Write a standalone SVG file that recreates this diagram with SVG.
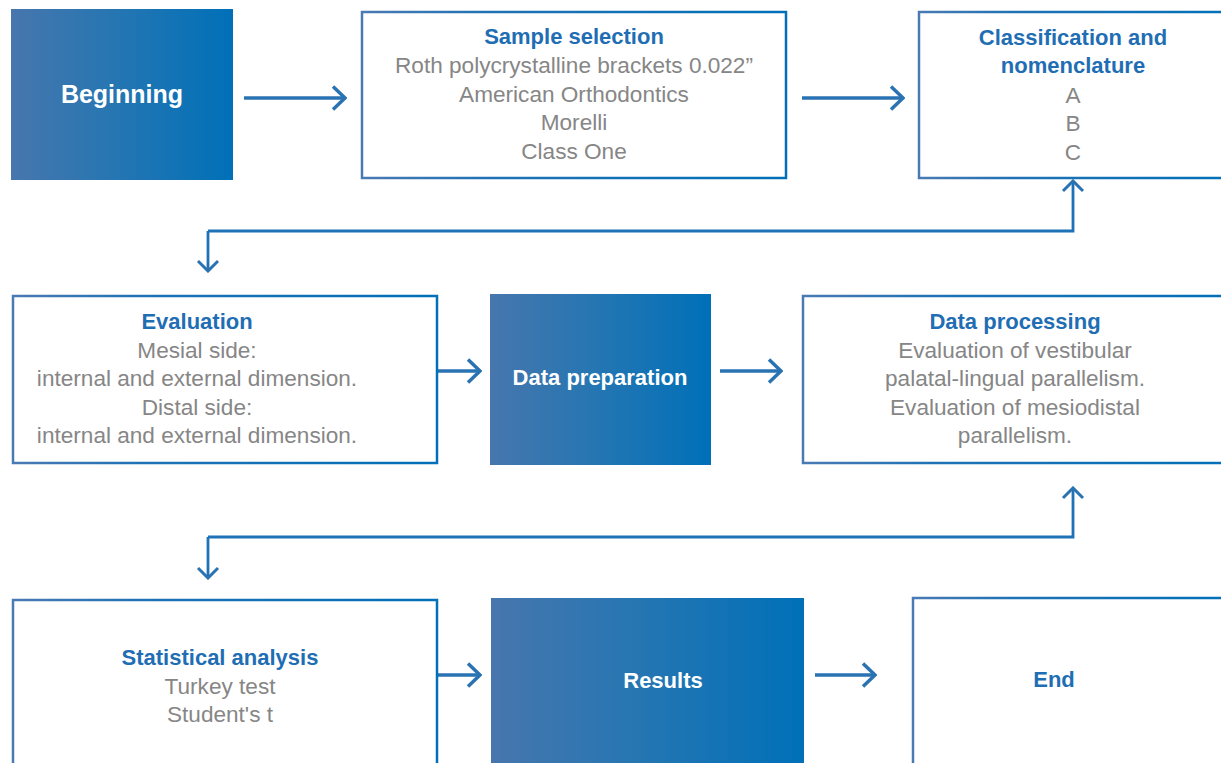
<svg xmlns="http://www.w3.org/2000/svg" width="1221" height="763" viewBox="0 0 1221 763">
<defs>
<linearGradient id="fillGrad" x1="0" y1="0" x2="1" y2="0">
<stop offset="0" stop-color="#4776ad"/>
<stop offset="0.45" stop-color="#2776b2"/>
<stop offset="1" stop-color="#0070b8"/>
</linearGradient>
<linearGradient id="strokeGrad" x1="0" y1="0" x2="1" y2="0">
<stop offset="0" stop-color="#4a7ab3"/>
<stop offset="0.3" stop-color="#1f72b5"/>
<stop offset="1" stop-color="#0070b8"/>
</linearGradient>
<marker id="headBig" markerUnits="userSpaceOnUse" viewBox="0 0 16 26" refX="14" refY="13" markerWidth="16" markerHeight="26" orient="auto">
<path d="M2,1.5 L14,13 L2,24.5" fill="none" stroke="#2a73b3" stroke-width="3.5"/>
</marker>
<marker id="headSmall" markerUnits="userSpaceOnUse" viewBox="0 0 14 24" refX="12" refY="12" markerWidth="14" markerHeight="24" orient="auto">
<path d="M2,2 L12,12 L2,22" fill="none" stroke="#2a73b3" stroke-width="3"/>
</marker>
</defs>
<style>
.grad{fill:url(#fillGrad);}
.box{fill:#ffffff;stroke:url(#strokeGrad);stroke-width:2.5;}
.t{font-family:"Liberation Sans",Arial,sans-serif;text-anchor:middle;}
.title{font-weight:bold;font-size:22px;fill:#1f6eb4;}
.body{font-size:22.6px;fill:#868686;}
.white{font-weight:bold;font-size:22px;fill:#ffffff;}
.arrow{fill:none;stroke:#2a73b3;stroke-width:3.5;marker-end:url(#headBig);}
.conn{fill:none;stroke:#1f72b5;stroke-width:2.8;marker-end:url(#headSmall);}
</style>
<rect width="1221" height="763" fill="#ffffff"/>

<g id="connectors">
<line class="arrow" x1="244" y1="98" x2="345" y2="98"/>
<line class="arrow" x1="802" y1="98" x2="903" y2="98"/>
<line class="arrow" x1="437" y1="371" x2="480" y2="371"/>
<line class="arrow" x1="720" y1="371" x2="781" y2="371"/>
<line class="arrow" x1="437" y1="675" x2="480" y2="675"/>
<line class="arrow" x1="815" y1="675" x2="875" y2="675"/>
<polyline class="conn" points="208,231 208,271"/>
<polyline class="conn" points="208,231 1073,231 1073,181"/>
<polyline class="conn" points="208,537 208,578"/>
<polyline class="conn" points="208,537 1073,537 1073,488"/>
</g>

<g id="beginning">
<rect class="grad" x="11" y="9" width="222" height="171"/>
<text class="t white" x="122" y="103" style="font-size:25px">Beginning</text>
</g>

<g id="sample-selection">
<rect class="box" x="362" y="12" width="424" height="166"/>
<text class="t title" x="574" y="44">Sample selection</text>
<text class="t body" x="574" y="73">Roth polycrystalline brackets 0.022”</text>
<text class="t body" x="574" y="102">American Orthodontics</text>
<text class="t body" x="574" y="130">Morelli</text>
<text class="t body" x="574" y="159">Class One</text>
</g>

<g id="classification">
<rect class="box" x="919" y="12" width="320" height="166"/>
<text class="t title" x="1073" y="45">Classification and</text>
<text class="t title" x="1073" y="73">nomenclature</text>
<text class="t body" x="1073" y="103">A</text>
<text class="t body" x="1073" y="131">B</text>
<text class="t body" x="1073" y="160">C</text>
</g>

<g id="evaluation">
<rect class="box" x="13" y="296" width="424" height="167"/>
<text class="t title" x="197" y="329">Evaluation</text>
<text class="t body" x="197" y="358">Mesial side:</text>
<text class="t body" x="197" y="386">internal and external dimension.</text>
<text class="t body" x="197" y="415">Distal side:</text>
<text class="t body" x="197" y="443">internal and external dimension.</text>
</g>

<g id="data-preparation">
<rect class="grad" x="490" y="294" width="221" height="171"/>
<text class="t white" x="600" y="385">Data preparation</text>
</g>

<g id="data-processing">
<rect class="box" x="803" y="296" width="436" height="167"/>
<text class="t title" x="1015" y="329">Data processing</text>
<text class="t body" x="1015" y="358">Evaluation of vestibular</text>
<text class="t body" x="1015" y="386">palatal-lingual parallelism.</text>
<text class="t body" x="1015" y="415">Evaluation of mesiodistal</text>
<text class="t body" x="1015" y="443">parallelism.</text>
</g>

<g id="statistical-analysis">
<rect class="box" x="13" y="600" width="424" height="180"/>
<text class="t title" x="220" y="665">Statistical analysis</text>
<text class="t body" x="220" y="694">Turkey test</text>
<text class="t body" x="220" y="722">Student's t</text>
</g>

<g id="results">
<rect class="grad" x="491" y="598" width="313" height="180"/>
<text class="t white" x="663" y="688">Results</text>
</g>

<g id="end">
<rect class="box" x="913" y="598" width="330" height="180"/>
<text class="t title" x="1054" y="687">End</text>
</g>
</svg>
